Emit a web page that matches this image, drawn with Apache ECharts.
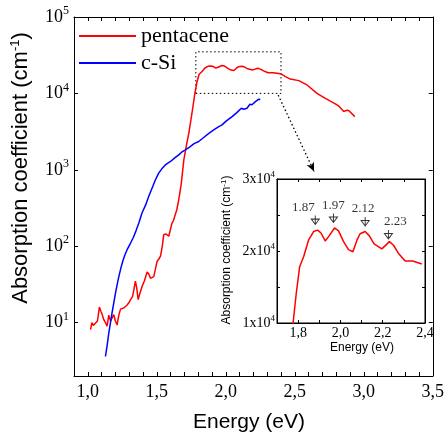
<!DOCTYPE html>
<html><head><meta charset="utf-8">
<script src="https://cdn.jsdelivr.net/npm/echarts@6/dist/echarts.min.js"></script>
<style>html,body{margin:0;padding:0;background:#fff}#c{width:447px;height:436px}</style>
</head><body><div id="c"></div>
<script>
// ---- data ----
const energyPentacene = [1.02,1.03,1.04,1.055,1.07,1.084,1.095,1.103,1.115,1.128,1.14,1.152,1.165,1.176,1.188,1.2,1.212,1.225,1.237,1.25,1.261,1.275,1.285,1.3,1.31,1.325,1.333,1.345,1.355,1.365,1.38,1.394,1.41,1.43,1.443,1.454,1.466,1.478,1.49,1.502,1.515,1.527,1.54,1.55,1.565,1.578,1.587,1.6,1.61,1.62,1.63,1.645,1.659,1.677,1.696,1.715,1.732,1.755,1.776,1.791,1.807,1.826,1.849,1.873,1.892,1.908,1.928,1.944,1.972,1.991,2.015,2.038,2.059,2.078,2.093,2.117,2.137,2.159,2.196,2.232,2.251,2.274,2.306,2.342,2.385,2.4,2.432,2.468,2.529,2.589,2.661,2.722,2.794,2.82,2.855,2.875,2.891,2.935];
const alphaPentacene = [8.1,10,9.2,9.8,10.5,16,14,13,11,10,9.0,12.5,10.5,10,12.7,10.5,9.3,12.5,15,14.5,15.5,16,17,18.5,20,22,23,35,28,20,25,30,35,46,43,38,38,40,50,63,68,74,100,141,145,138,135,170,200,215,225,300,405,650,1350,2100,3000,5500,10000,14100,17800,19200,21500,22700,22900,22500,21400,22000,23200,22800,21300,20200,19900,21500,22400,22700,22100,21000,20300,21300,20800,19700,18600,18600,18200,18000,16600,15400,14700,12900,10000,8600,7300,6800,5800,6000,5960,4970];
const energySi = [1.128,1.14,1.152,1.164,1.176,1.188,1.2,1.212,1.225,1.24,1.255,1.27,1.285,1.31,1.33,1.35,1.37,1.393,1.42,1.442,1.47,1.49,1.514,1.54,1.56,1.58,1.6,1.63,1.659,1.68,1.707,1.74,1.77,1.804,1.84,1.877,1.91,1.949,1.973,2.0,2.046,2.08,2.113,2.13,2.154,2.175,2.19,2.215,2.239,2.25];
const alphaSi = [3.6,5,7.3,9.9,13.5,18,24,31,40,52,65,78,90,110,130,160,201,272,350,450,600,740,906,1050,1150,1220,1285,1430,1570,1700,1824,2000,2200,2345,2650,3000,3300,3680,3870,4300,4970,5600,6400,6200,6400,7200,7100,7800,8400,8300];
const seriesNames = ['pentacene', 'c-Si'];
const mainXLabelValues = [1.0, 1.5, 2.0, 2.5, 3.0, 3.5];
const insetXLabelValues = [1.8, 2.0, 2.2, 2.4];
const insetYLabelValues = [10000, 20000, 30000];
const peakEnergy = [1.881, 1.967, 2.117, 2.227];
const peakAlpha = [24300, 24600, 24100, 22300];
const peakLabels = ['1.87', '1.97', '2.12', '2.23'];
const zoomBox = [[1.783, 10000], [2.4, 35000]];
const zoomArrow = [[2.38, 9500], [2.64, 950]];

// ---- styling ----
const SERIF = "'Liberation Serif','Times New Roman',serif";
const SANS = "'Liberation Sans',Arial,sans-serif";
const peakLabelOffsets = [[-12, 0], [0, 0], [-2, 0], [7, 0]];
const near = (a, b) => Math.abs(a - b) < 1e-6;

const chart = echarts.init(document.getElementById('c'), null, {renderer: 'canvas'});

const axisLineStyle = {show: true, lineStyle: {color: '#000', width: 1}};
const tickStyle = {show: true, inside: true, length: 4, lineStyle: {color: '#000', width: 1}};
const supRich = (size, pad) => ({sup: {fontSize: size, fontFamily: SERIF, color: '#000', padding: [0, 0, pad, 0]}});

const pentData = energyPentacene.map((e, i) => [e, alphaPentacene[i]]);
const siData = energySi.map((e, i) => [e, alphaSi[i]]);
const insetData = pentData.filter(d => d[0] <= 2.39);

const option = {
  animation: false,
  backgroundColor: '#fff',
  grid: [
    {left: 74, top: 17, right: 11, bottom: 60, show: false},
    {left: 277, top: 179, width: 148, height: 144, show: true, backgroundColor: '#fff', borderColor: '#000', borderWidth: 1}
  ],
  legend: {
    data: seriesNames,
    orient: 'vertical',
    left: 79, top: 25, padding: 0, itemGap: 5,
    icon: 'rect', itemWidth: 57, itemHeight: 2,
    textStyle: {fontFamily: SERIF, fontSize: 22, color: '#000', lineHeight: 22}
  },
  xAxis: [
    {gridIndex: 0, type: 'value', min: 0.9, max: 3.5, interval: 0.1, position: 'bottom',
     axisLine: axisLineStyle, axisTick: tickStyle, splitLine: {show: false},
     axisLabel: {margin: 7, fontFamily: SERIF, fontSize: 18, color: '#000',
       formatter: v => mainXLabelValues.some(t => near(t, v)) ? v.toFixed(1).replace('.', ',') : ''}},
    {gridIndex: 0, type: 'value', min: 0.9, max: 3.5, interval: 0.1, position: 'top',
     axisLine: axisLineStyle, axisTick: tickStyle, splitLine: {show: false}, axisLabel: {show: false}},
    {gridIndex: 1, type: 'value', min: 1.7, max: 2.4, interval: 0.1, position: 'bottom',
     axisLine: axisLineStyle, axisTick: {...tickStyle, length: 3}, splitLine: {show: false},
     axisLabel: {margin: 3, fontFamily: SERIF, fontSize: 14, color: '#000',
       formatter: v => insetXLabelValues.some(t => near(t, v)) ? v.toFixed(1).replace('.', ',') : ''}},
    {gridIndex: 1, type: 'value', min: 1.7, max: 2.4, interval: 0.1, position: 'top',
     axisLine: axisLineStyle, axisTick: {...tickStyle, length: 3}, splitLine: {show: false}, axisLabel: {show: false}}
  ],
  yAxis: [
    {gridIndex: 0, type: 'log', logBase: 10, min: 2, max: 100000, position: 'left',
     axisLine: axisLineStyle, axisTick: tickStyle, splitLine: {show: false}, minorTick: {show: false},
     axisLabel: {margin: 5, fontFamily: SERIF, fontSize: 18, color: '#000', rich: supRich(12, 12),
       formatter: v => { const p = Math.log10(v); return near(p, Math.round(p)) ? '10{sup|' + Math.round(p) + '}' : ''; }}},
    {gridIndex: 0, type: 'log', logBase: 10, min: 2, max: 100000, position: 'right',
     axisLine: axisLineStyle, axisTick: tickStyle, splitLine: {show: false}, axisLabel: {show: false}},
    {gridIndex: 1, type: 'value', min: 10000, max: 30000, interval: 5000, position: 'left',
     axisLine: axisLineStyle, axisTick: {...tickStyle, length: 3}, splitLine: {show: false},
     axisLabel: {margin: 2, fontFamily: SERIF, fontSize: 14, color: '#000', rich: supRich(9, 9),
       formatter: v => insetYLabelValues.some(t => near(t, v)) ? (v / 10000) + 'x10{sup|4}' : ''}},
    {gridIndex: 1, type: 'value', min: 10000, max: 30000, interval: 5000, position: 'right',
     axisLine: axisLineStyle, axisTick: {...tickStyle, length: 3}, splitLine: {show: false}, axisLabel: {show: false}}
  ],
  series: [
    {name: seriesNames[0], type: 'line', xAxisIndex: 0, yAxisIndex: 0, data: pentData,
     showSymbol: false, symbol: 'none', lineStyle: {color: '#ff0000', width: 1.5}, itemStyle: {color: '#ff0000'}, z: 3,
     markArea: {silent: true, data: [[{coord: zoomBox[0]}, {coord: zoomBox[1]}]],
       itemStyle: {color: 'rgba(0,0,0,0)', borderColor: '#000', borderWidth: 1, borderType: [1.5, 2.5]}},
     markLine: {silent: true, symbol: ['none', 'arrow'], symbolSize: [6, 9],
       label: {show: false},
       lineStyle: {color: '#000', width: 1.3, type: [1.5, 2.5]},
       data: [[{coord: zoomArrow[0]}, {coord: zoomArrow[1]}]]}},
    {name: seriesNames[1], type: 'line', xAxisIndex: 0, yAxisIndex: 0, data: siData,
     showSymbol: false, symbol: 'none', lineStyle: {color: '#0000ff', width: 1.5}, itemStyle: {color: '#0000ff'}, z: 3},
    {name: 'inset', type: 'line', xAxisIndex: 2, yAxisIndex: 2, data: insetData,
     showSymbol: false, symbol: 'none', lineStyle: {color: '#ff0000', width: 1.5}, z: 5},
    {name: 'peaks', type: 'scatter', xAxisIndex: 2, yAxisIndex: 2, z: 6,
     symbol: 'path://M4,0L4,10M0,4L8,4L4,10Z', symbolSize: [8, 9],
     itemStyle: {color: 'rgba(0,0,0,0)', borderColor: '#000', borderWidth: 1},
     data: peakEnergy.map((e, i) => ({value: [e, peakAlpha[i]],
       label: {show: true, position: 'top', distance: 1, offset: peakLabelOffsets[i], formatter: peakLabels[i],
         fontFamily: SERIF, fontSize: 13, color: '#000'}}))}
  ],
  graphic: [
    {type: 'text', x: 21, y: 168, rotation: Math.PI / 2,
     style: {text: 'Absorption coefficient (cm{s|-1})', fontFamily: SANS, fontSize: 22, fill: '#000',
       align: 'center', verticalAlign: 'middle',
       rich: {s: {fontFamily: SANS, fontSize: 13, fill: '#000', padding: [0, 0, 12, 0]}}}},
    {type: 'text', x: 249, y: 422,
     style: {text: 'Energy (eV)', fontFamily: SANS, fontSize: 21, fill: '#000', align: 'center', verticalAlign: 'middle'}},
    {type: 'text', x: 227, y: 250, rotation: Math.PI / 2,
     style: {text: 'Absorption coefficient (cm{s|-1})', fontFamily: SANS, fontSize: 12, fill: '#000',
       align: 'center', verticalAlign: 'middle',
       rich: {s: {fontFamily: SANS, fontSize: 8, fill: '#000', padding: [0, 0, 7, 0]}}}},
    {type: 'text', x: 362, y: 348,
     style: {text: 'Energy (eV)', fontFamily: SANS, fontSize: 12, fill: '#000', align: 'center', verticalAlign: 'middle'}}
  ]
};
chart.setOption(option);
</script>
</body></html>
